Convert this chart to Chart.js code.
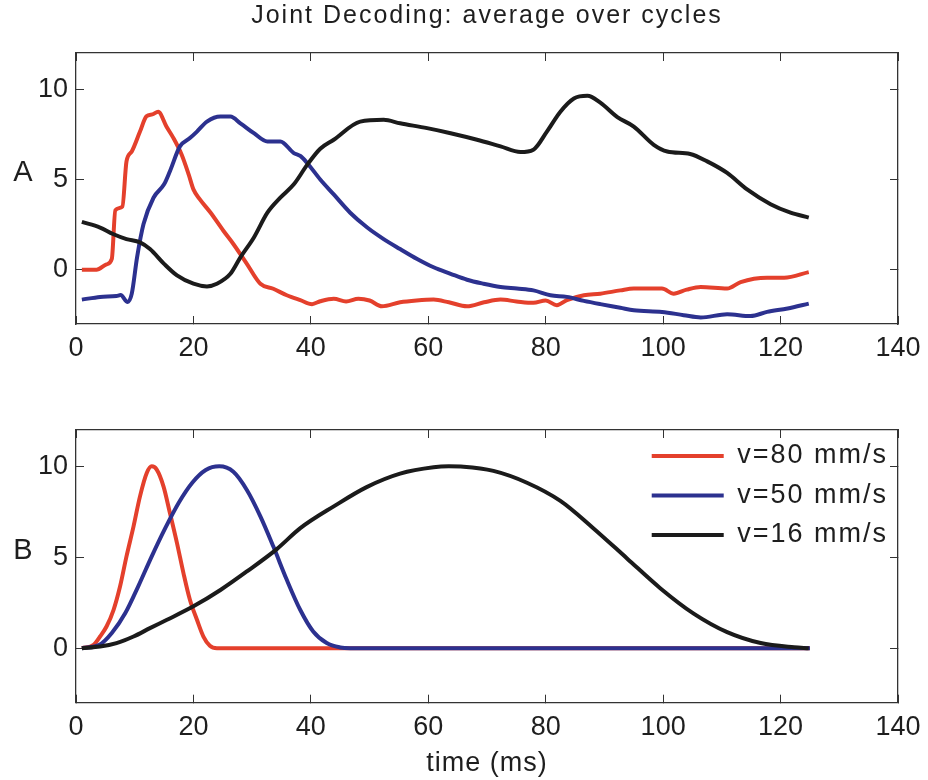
<!DOCTYPE html>
<html><head><meta charset="utf-8">
<script src="https://cdn.jsdelivr.net/npm/chart.js@4.4.1/dist/chart.umd.min.js"></script>
<style>
html,body{margin:0;padding:0;background:#fff;}
#wrap{position:relative;width:928px;height:780px;overflow:hidden;}
#c1{position:absolute;left:0;top:0;}
#c2{position:absolute;left:0;top:380px;}
</style></head><body>
<div id="wrap"><canvas id="c1" width="928" height="380"></canvas><canvas id="c2" width="928" height="400"></canvas></div>
<script>
// ---- data ----
const titleText = 'Joint Decoding: average over cycles';
const xTitle = 'time (ms)';
const panelNames = ['A', 'B'];
const seriesNames = ['v=80 mm/s', 'v=50 mm/s', 'v=16 mm/s'];
const xTicks = [0, 20, 40, 60, 80, 100, 120, 140];
const yTicks = [0, 5, 10];

// Panel A: decoded joint (averaged over cycles)
const redA_t = [1, 3.5, 5.2, 6.1, 6.7, 7.9, 8.6, 9.5, 10.9, 12.0, 13.0, 14.0, 15.4, 16.6, 18.0, 19.2, 20.0, 21.1, 22.9, 25.1, 26.8, 29.1, 31.4, 33.6, 35.9, 38.2, 40.2, 41.6, 43.9, 46.0, 48.1, 50.0, 52.1, 55.2, 58.0, 60.9, 63.5, 66.6, 69.5, 72.3, 75.0, 77.9, 80.0, 81.9, 83.6, 86.5, 89.3, 92.7, 95.0, 99.8, 101.8, 104.0, 106.4, 110.9, 113.2, 117.7, 120.6, 124.8];
const redA_v = [0, 0, 0.3, 0.6, 3.3, 3.5, 6.0, 6.55, 7.65, 8.5, 8.6, 8.75, 7.93, 7.29, 6.37, 5.27, 4.45, 3.9, 3.17, 2.16, 1.43, 0.33, -0.77, -1.05, -1.41, -1.68, -1.9, -1.74, -1.6, -1.75, -1.6, -1.7, -2.02, -1.8, -1.7, -1.65, -1.8, -2.02, -1.8, -1.65, -1.75, -1.83, -1.7, -1.96, -1.68, -1.41, -1.32, -1.14, -1.04, -1.04, -1.32, -1.1, -0.95, -1.04, -0.68, -0.44, -0.44, -0.13];

const blueA_t = [1, 4.1, 6.9, 7.6, 8.8, 9.5, 10.4, 11.5, 13.2, 15.0, 16.0, 17.7, 19.4, 20.6, 22.3, 24.6, 26.3, 28.0, 30.3, 32.6, 34.8, 37.1, 38.2, 39.4, 41.6, 43.9, 46.7, 49.6, 52.4, 55.2, 58.1, 60.9, 63.8, 66.6, 69.4, 72.3, 75.1, 77.9, 80.8, 83.6, 86.5, 89.3, 92.7, 95.0, 99.8, 103.5, 106.4, 110.9, 114.9, 117.7, 121.2, 124.8];
const blueA_v = [-1.65, -1.5, -1.45, -1.4, -1.78, -1.32, 0.69, 2.53, 3.99, 4.73, 5.46, 6.83, 7.29, 7.65, 8.2, 8.48, 8.48, 8.11, 7.56, 7.1, 7.1, 6.46, 6.3, 5.9, 5.0, 4.17, 3.16, 2.34, 1.7, 1.15, 0.6, 0.14, -0.22, -0.55, -0.77, -0.95, -1.04, -1.14, -1.41, -1.5, -1.72, -1.9, -2.1, -2.24, -2.33, -2.51, -2.64, -2.46, -2.56, -2.33, -2.14, -1.87];

const blackA_t = [1, 4.1, 6.3, 8.6, 10.9, 12.6, 15.0, 17.2, 20.0, 22.3, 24.0, 26.3, 28.0, 30.3, 32.6, 34.8, 37.1, 39.4, 41.6, 43.9, 48.4, 52.4, 55.2, 59.8, 63.8, 68.3, 72.3, 75.7, 77.9, 80.2, 82.5, 84.8, 87.1, 89.3, 92.2, 95.0, 98.4, 100.7, 104.6, 107.5, 110.9, 114.3, 118.3, 121.7, 124.8];
const blackA_v = [2.65, 2.34, 1.98, 1.7, 1.52, 1.15, 0.33, -0.31, -0.77, -0.92, -0.77, -0.22, 0.69, 1.79, 3.16, 3.99, 4.73, 5.82, 6.7, 7.2, 8.2, 8.3, 8.11, 7.84, 7.56, 7.2, 6.83, 6.52, 6.65, 7.65, 8.75, 9.48, 9.63, 9.25, 8.45, 7.93, 6.92, 6.55, 6.41, 6.0, 5.36, 4.45, 3.63, 3.16, 2.89];

// Panel B: model profiles
const redB_t = [1, 3.0, 4.1, 5.2, 6.4, 7.5, 8.6, 9.8, 10.9, 12.05, 12.9, 13.75, 14.9, 16.0, 17.2, 18.3, 19.4, 20.6, 21.7, 22.8, 24.0, 125];
const redB_v = [0, 0.18, 0.64, 1.19, 2.11, 3.39, 5.05, 6.7, 8.35, 9.63, 10, 9.82, 8.9, 7.43, 5.78, 4.13, 2.66, 1.56, 0.64, 0.13, 0, 0];

const blueB_t = [1, 4.0, 6.1, 8.4, 10.6, 12.9, 15.2, 17.5, 19.8, 22.1, 24.4, 26.8, 29.1, 31.4, 33.6, 35.9, 38.2, 40.4, 42.7, 45.0, 46.7, 125];
const blueB_v = [0, 0.18, 0.83, 1.93, 3.4, 5.05, 6.6, 8.0, 9.1, 9.8, 10, 9.7, 8.7, 7.25, 5.6, 3.76, 2.1, 0.92, 0.28, 0.04, 0, 0];

const blackB_t = [1, 4.1, 6.9, 9.8, 12.6, 15.5, 20.0, 24.6, 29.1, 34.2, 38.2, 43.9, 49.5, 55.2, 60.9, 63.5, 66.0, 71.1, 76.8, 82.5, 88.1, 93.8, 99.5, 105.2, 110.9, 116.6, 122.3, 124.8];
const blackB_v = [0, 0.09, 0.28, 0.64, 1.1, 1.56, 2.3, 3.2, 4.22, 5.45, 6.6, 7.8, 8.86, 9.6, 9.95, 10, 9.98, 9.75, 9.1, 8.1, 6.6, 4.95, 3.3, 1.9, 0.88, 0.28, 0.05, 0];

// ---- styling ----
const FONT = '"Liberation Sans", Arial, Helvetica, sans-serif';
const COLORS = ['#e4402c', '#2c318f', '#1b1b1b'];
const AXC = '#333333';
const TXT = '#1e1e1e';

function spacingFor(text) {
  if (text === titleText || seriesNames.includes(text)) return '2px';
  if (text === xTitle) return '1px';
  return '0px';
}
function wrapCanvas(id) {
  const cv = document.getElementById(id);
  const ctx = cv.getContext('2d');
  const orig = ctx.fillText.bind(ctx);
  ctx.fillText = function (text, x, y, mw) {
    const prev = ctx.letterSpacing;
    ctx.letterSpacing = spacingFor(String(text));
    if (mw === undefined) orig(text, x, y); else orig(text, x, y, mw);
    ctx.letterSpacing = prev;
  };
  return cv;
}

const pts = (t, v) => t.map((x, i) => ({x: x, y: v[i]}));

function makeDatasets(series) {
  return series.map((s, i) => ({
    label: seriesNames[i],
    data: pts(s[0], s[1]),
    borderColor: COLORS[i],
    backgroundColor: COLORS[i],
    borderWidth: 4,
    pointRadius: 0,
    fill: false,
    cubicInterpolationMode: 'monotone',
    borderJoinStyle: 'round',
    order: 3 - i
  }));
}

function setTicks(arr) {
  return (scale) => { scale.ticks = arr.map(v => ({value: v})); };
}

function gridOpts() {
  return {display: true, drawOnChartArea: false, drawTicks: true, tickLength: -8, color: AXC, lineWidth: 1};
}
function borderOpts() { return {display: true, color: AXC, width: 1.3}; }

function makeScales(bottomH, topH, withTitle) {
  const tickFont = {family: FONT, size: 27};
  return {
    x: {
      type: 'linear', position: 'bottom', min: 0, max: 140,
      afterBuildTicks: setTicks(xTicks),
      afterFit: (s) => { s.height = bottomH; s.paddingRight = 0; s.paddingLeft = 0; },
      grid: gridOpts(), border: borderOpts(),
      ticks: {font: tickFont, color: TXT, padding: 16.5, maxRotation: 0, autoSkip: false},
      title: {display: withTitle, text: xTitle, font: {family: FONT, size: 27}, color: TXT, padding: {top: 0, bottom: 0}}
    },
    x2: {
      type: 'linear', position: 'top', min: 0, max: 140,
      afterBuildTicks: setTicks(xTicks),
      afterFit: (s) => { s.height = topH; s.paddingRight = 0; s.paddingLeft = 0; },
      grid: gridOpts(), border: borderOpts(),
      ticks: {display: false}
    },
    y: {
      type: 'linear', position: 'left', min: -3, max: 12,
      afterBuildTicks: setTicks(yTicks),
      afterFit: (s) => { s.width = 76; s.paddingTop = 0; s.paddingBottom = 0; },
      grid: gridOpts(), border: borderOpts(),
      ticks: {font: tickFont, color: TXT, padding: 16}
    },
    y2: {
      type: 'linear', position: 'right', min: -3, max: 12,
      afterBuildTicks: setTicks(yTicks),
      afterFit: (s) => { s.width = 30; s.paddingTop = 0; s.paddingBottom = 0; },
      grid: gridOpts(), border: borderOpts(),
      ticks: {display: false}
    }
  };
}

const panelLabel = {
  id: 'panelLabel',
  afterDraw(chart, args, opts) {
    const ctx = chart.ctx;
    ctx.save();
    ctx.font = '29px ' + FONT;
    ctx.fillStyle = TXT;
    ctx.textAlign = 'center';
    ctx.textBaseline = 'middle';
    ctx.fillText(opts.text, 23, chart.scales.y.getPixelForValue(5) - 6);
    ctx.restore();
  }
};

const legendPlace = {
  id: 'legendPlace',
  afterLayout(chart) {
    const lg = chart.legend;
    if (!lg || !lg.options.display) return;
    const o = lg.options.labels;
    const ctx = chart.ctx;
    ctx.save();
    ctx.font = o.font.size + 'px ' + FONT;
    ctx.letterSpacing = '2px';
    const w = Math.max(...seriesNames.map(n => ctx.measureText(n).width));
    ctx.restore();
    lg.left = chart.chartArea.right - 10 - w - o.font.size / 2 - o.boxWidth - o.padding;
    lg.top = chart.chartArea.top;
    lg.bottom = chart.chartArea.bottom;
  }
};

Chart.defaults.font.family = FONT;

new Chart(wrapCanvas('c1'), {
  type: 'line',
  data: {datasets: makeDatasets([[redA_t, redA_v], [blueA_t, blueA_v], [blackA_t, blackA_v]])},
  options: {
    responsive: false, animation: false, devicePixelRatio: 1,
    layout: {padding: 0},
    scales: makeScales(56, 10, false),
    plugins: {
      legend: {display: false},
      tooltip: {enabled: false},
      title: {display: true, text: titleText, fullSize: false, color: TXT,
              font: {family: FONT, size: 25, weight: 'normal', lineHeight: 1.2},
              padding: {top: 1.5, bottom: 11.5}},
      panelLabel: {text: panelNames[0]}
    }
  },
  plugins: [panelLabel]
});

new Chart(wrapCanvas('c2'), {
  type: 'line',
  data: {datasets: makeDatasets([[redB_t, redB_v], [blueB_t, blueB_v], [blackB_t, blackB_v]])},
  options: {
    responsive: false, animation: false, devicePixelRatio: 1,
    layout: {padding: 0},
    scales: makeScales(77.3, 50, true),
    plugins: {
      legend: {
        display: true, position: 'chartArea', align: 'start',
        labels: {
          font: {family: FONT, size: 27}, color: TXT, boxWidth: 72, boxHeight: 4, padding: 12.5,
          generateLabels: (chart) => chart.data.datasets.map((d, i) => ({
            text: d.label, fillStyle: d.borderColor, strokeStyle: d.borderColor,
            lineWidth: 0, hidden: false, datasetIndex: i, fontColor: TXT
          }))
        }
      },
      tooltip: {enabled: false},
      panelLabel: {text: panelNames[1]}
    }
  },
  plugins: [panelLabel, legendPlace]
});
</script>
</body></html>
